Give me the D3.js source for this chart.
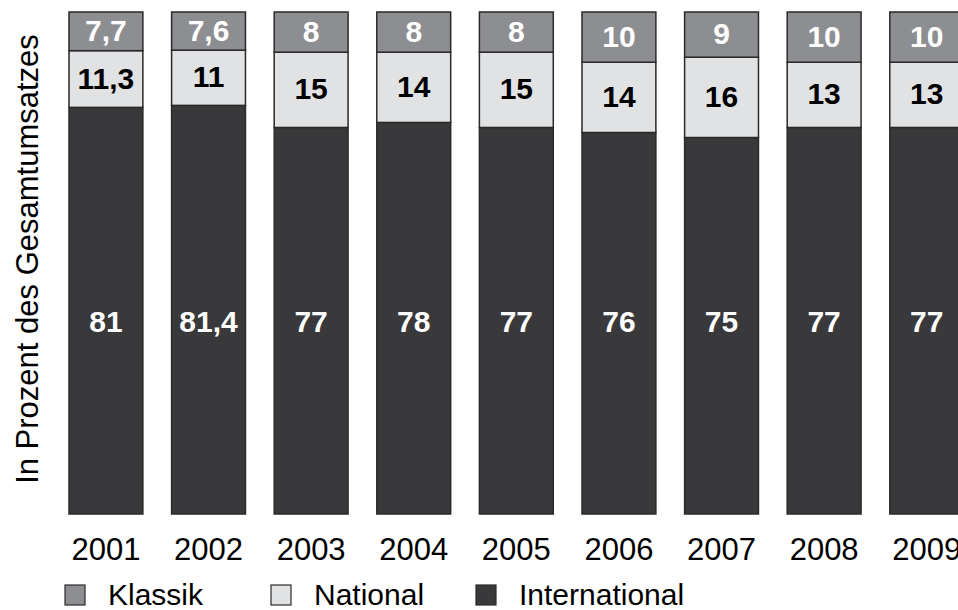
<!DOCTYPE html>
<html><head><meta charset="utf-8">
<script src="https://cdn.jsdelivr.net/npm/d3@7"></script>
<style>
html,body{margin:0;padding:0;background:#fff;overflow:hidden}
svg{display:block;font-family:"Liberation Sans",Arial,Helvetica,sans-serif}
</style></head>
<body><svg id="chart" width="958" height="610"></svg>
<script>
const years = ["2001","2002","2003","2004","2005","2006","2007","2008","2009"];
const international = [81, 81.4, 77, 78, 77, 76, 75, 77, 77];
const national = [11.3, 11, 15, 14, 15, 14, 16, 13, 13];
const klassik = [7.7, 7.6, 8, 8, 8, 10, 9, 10, 10];
const seriesNames = ["International", "National", "Klassik"];
const legendOrder = ["Klassik", "National", "International"];

const colors = {Klassik:"#8d8e92", National:"#e1e2e4", International:"#39393b"};
const labelColors = {Klassik:"#ffffff", National:"#000000", International:"#ffffff"};

const fmt = v => String(v).replace(".", ",");

const svg = d3.select("#chart");
const width = 958, height = 610;
const margin = {left: 69, top: 12, bottom: 96};
const step = 102.6, padIn = 0.28;

const rows = years.map((y,i) => ({year:y, International:international[i], National:national[i], Klassik:klassik[i]}));
const stack = d3.stack().keys(seriesNames)(rows);

const x = d3.scaleBand().domain(years)
  .range([margin.left, margin.left + step*(years.length - padIn)])
  .paddingInner(padIn).paddingOuter(0);
const y = d3.scaleLinear().domain([0,100]).range([height - margin.bottom, margin.top]);

const g = svg.append("g");
stack.forEach(layer => {
  const key = layer.key;
  g.append("g").selectAll("rect").data(layer).join("rect")
    .attr("x", d => x(d.data.year))
    .attr("y", d => y(d[1]))
    .attr("width", x.bandwidth())
    .attr("height", d => y(d[0]) - y(d[1]))
    .attr("fill", colors[key])
    .attr("stroke", "#2a2a2a")
    .attr("stroke-width", 1.5);
});

stack.forEach(layer => {
  const key = layer.key;
  g.append("g").selectAll("text").data(layer).join("text")
    .attr("x", d => x(d.data.year) + x.bandwidth()/2)
    .attr("y", d => key === "International" ? y(38.4) : y((d[0]+d[1])/2) - 1)
    .attr("text-anchor","middle")
    .attr("dominant-baseline","central")
    .attr("font-weight","bold")
    .attr("font-size", 30)
    .attr("fill", labelColors[key])
    .text(d => fmt(d.data[key]));
});

// x axis labels
const xAxis = d3.axisBottom(x).tickSize(0).tickPadding(0);
const ax = svg.append("g").attr("transform", `translate(0,${y(0)})`).call(xAxis);
ax.select(".domain").remove();
ax.selectAll("text")
  .attr("font-size", 31).attr("fill","#000")
  .attr("font-family","'Liberation Sans',Arial,sans-serif")
  .attr("dy", null).attr("y", 46)
  .attr("dominant-baseline","auto");

// y axis title
svg.append("text")
  .attr("transform", "translate(38,259) rotate(-90)")
  .attr("text-anchor","middle")
  .attr("font-size", 31)
  .attr("fill","#000")
  .text("In Prozent des Gesamtumsatzes");

// legend
const legendX = {Klassik:65, National:271, International:476};
const lg = svg.append("g");
legendOrder.forEach(k => {
  lg.append("rect").attr("x", legendX[k]).attr("y", 585).attr("width", 20).attr("height", 20)
    .attr("fill", colors[k]).attr("stroke","#2a2a2a").attr("stroke-width",1.2);
  lg.append("text").attr("x", legendX[k] + 43).attr("y", 605)
    .attr("font-size", 30).attr("fill","#000").text(k);
});
</script></body></html>
